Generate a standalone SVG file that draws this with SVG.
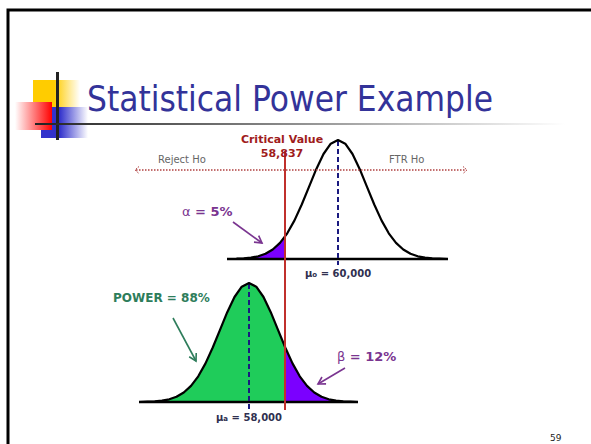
<svg xmlns="http://www.w3.org/2000/svg" width="591" height="444" viewBox="0 0 591 444">
<defs>
<linearGradient id="gY" x1="0" x2="1" y1="0" y2="0"><stop offset="0" stop-color="#ffcc00"/><stop offset="0.45" stop-color="#ffcc00"/><stop offset="1" stop-color="#ffffff"/></linearGradient>
<linearGradient id="gR" x1="0" x2="1" y1="0" y2="0"><stop offset="0" stop-color="#ffffff"/><stop offset="1" stop-color="#ff0000"/></linearGradient>
<linearGradient id="gB" x1="0" x2="1" y1="0" y2="0"><stop offset="0" stop-color="#3333cc"/><stop offset="0.4" stop-color="#3333cc"/><stop offset="1" stop-color="#ffffff"/></linearGradient>
<linearGradient id="gL" x1="0" x2="1" y1="0" y2="0"><stop offset="0" stop-color="#222222"/><stop offset="1" stop-color="#ffffff"/></linearGradient>
<marker id="mP" markerWidth="10" markerHeight="10" refX="8" refY="5" orient="auto" markerUnits="userSpaceOnUse"><path d="M1,1 L8,5 L1,9" fill="none" stroke="#7a3590" stroke-width="1.6"/></marker>
<marker id="mG" markerWidth="10" markerHeight="10" refX="8" refY="5" orient="auto" markerUnits="userSpaceOnUse"><path d="M1,1 L8,5 L1,9" fill="none" stroke="#2e7d5b" stroke-width="1.6"/></marker>
</defs>
<style>
.curve{fill:none;stroke:#000;stroke-width:2.2;stroke-linejoin:round}
.base{stroke:#000;stroke-width:2.5}
.mean{stroke:#1a1a80;stroke-width:2;stroke-dasharray:5 3}
.lbl{font-family:"DejaVu Sans",Verdana,sans-serif;font-weight:bold}
.hint{font-family:"DejaVu Sans",Verdana,sans-serif;font-size:10px;fill:#666}
.mu{font-family:"DejaVu Sans",Verdana,sans-serif;font-weight:bold;font-size:10px;fill:#303050}
</style>
<rect width="591" height="444" fill="#fff"/>
<path d="M8,444 V10 H591" fill="none" stroke="#000" stroke-width="3"/>
<g id="logo">
<rect x="33" y="80" width="47" height="27" fill="url(#gY)"/>
<rect x="41" y="107" width="47" height="31" fill="url(#gB)"/>
<rect x="15" y="102" width="37" height="28" fill="url(#gR)"/>
<line x1="57.5" y1="72" x2="57.5" y2="140" stroke="#222" stroke-width="3"/>
</g>
<g id="title">
<rect x="35" y="123" width="530" height="2" fill="url(#gL)"/>
<text x="87" y="111" font-family="'DejaVu Sans',Tahoma,sans-serif" font-size="36" fill="#333399" textLength="406" lengthAdjust="spacingAndGlyphs">Statistical Power Example</text>
</g>
<g id="null-distribution">
<path d="M236.5,258.7 L243.75,258.4 L251,257.7 L258.25,256.3 L265.5,253.8 L272.75,249.5 L280,242.9 L285,236.6 L285,259 L236.5,259 Z" fill="#7b00ff"/>
<line class="base" x1="227" y1="259" x2="448" y2="259"/>
<line class="mean" x1="338" y1="141" x2="338" y2="265"/>
<path class="curve" d="M236.5,258.7 L243.75,258.4 L251,257.7 L258.25,256.3 L265.5,253.8 L272.75,249.5 L280,242.9 L287.25,233.3 L294.5,220.4 L301.75,204.5 L309,186.8 L316.25,169.2 L323.5,154 L330.75,143.7 L338,140 L345.25,143.7 L352.5,154 L359.75,169.2 L367,186.8 L374.25,204.5 L381.5,220.4 L388.75,233.3 L396,242.9 L403.25,249.5 L410.5,253.8 L417.75,256.3 L425,257.7 L432.25,258.4 L439.5,258.7 L448,259"/>
<text class="mu" x="305" y="277">μ<tspan font-size="7">o</tspan> = 60,000</text>
</g>
<g id="alt-distribution">
<path d="M147.5,401.7 L154.75,401.4 L162,400.7 L169.25,399.3 L176.5,396.8 L183.75,392.5 L191,385.9 L198.25,376.3 L205.5,363.4 L212.75,347.5 L220,329.8 L227.25,312.2 L234.5,297 L241.75,286.7 L249,283 L256.25,286.7 L263.5,297 L270.75,312.2 L278,329.8 L285,346.9 L285,402 L147.5,402 Z" fill="#1fcc5a"/>
<path d="M285,346.9 L285.25,347.5 L292.5,363.4 L299.75,376.3 L307,385.9 L314.25,392.5 L321.5,396.8 L328.75,399.3 L336,400.7 L343.25,401.4 L350.5,401.7 L350.5,402 L285,402 Z" fill="#7b00ff"/>
<line class="base" x1="139" y1="402" x2="358" y2="402"/>
<line class="mean" x1="249" y1="284" x2="249" y2="410"/>
<path class="curve" d="M139,402 L147.5,401.7 L154.75,401.4 L162,400.7 L169.25,399.3 L176.5,396.8 L183.75,392.5 L191,385.9 L198.25,376.3 L205.5,363.4 L212.75,347.5 L220,329.8 L227.25,312.2 L234.5,297 L241.75,286.7 L249,283 L256.25,286.7 L263.5,297 L270.75,312.2 L278,329.8 L285.25,347.5 L292.5,363.4 L299.75,376.3 L307,385.9 L314.25,392.5 L321.5,396.8 L328.75,399.3 L336,400.7 L343.25,401.4 L350.5,401.7 L358,402"/>
<text class="mu" x="216" y="421">μ<tspan font-size="7">a</tspan> = 58,000</text>
</g>
<g id="critical-value">
<line x1="285" y1="151" x2="285" y2="410" stroke="#c0302c" stroke-width="2"/>
<text class="lbl" x="282" y="143" font-size="11" fill="#a01c1c" text-anchor="middle">Critical Value</text>
<text class="lbl" x="282" y="157" font-size="11" fill="#a01c1c" text-anchor="middle">58,837</text>
</g>
<g id="regions">
<line x1="136" y1="170" x2="466" y2="170" stroke="#b04040" stroke-width="1.5" stroke-dasharray="1.5 1.5"/>
<path d="M139,166.5 L135,170 L139,173.5 M463,166.5 L467,170 L463,173.5" fill="none" stroke="#b04040" stroke-width="1" stroke-dasharray="1.5 1"/>
<text class="hint" x="158" y="163">Reject Ho</text>
<text class="hint" x="389" y="163">FTR Ho</text>
</g>
<g id="labels">
<text class="lbl" x="182" y="216" font-size="13" fill="#7a3590"><tspan font-weight="normal">α</tspan> = 5%</text>
<text class="lbl" x="113" y="302" font-size="12" fill="#2e7d5b">POWER = 88%</text>
<text class="lbl" x="337" y="361" font-size="13" fill="#7a3590"><tspan font-weight="normal">β</tspan> = 12%</text>
</g>
<g id="connectors">
<line x1="233" y1="222" x2="262" y2="243" stroke="#7a3590" stroke-width="1.6" marker-end="url(#mP)"/>
<line x1="173" y1="318" x2="196" y2="361" stroke="#2e7d5b" stroke-width="1.6" marker-end="url(#mG)"/>
<line x1="345" y1="368" x2="318" y2="384" stroke="#7a3590" stroke-width="1.6" marker-end="url(#mP)"/>
</g>
<text x="550" y="441" font-family="'DejaVu Sans',Tahoma,sans-serif" font-size="9" fill="#222">59</text>
</svg>
